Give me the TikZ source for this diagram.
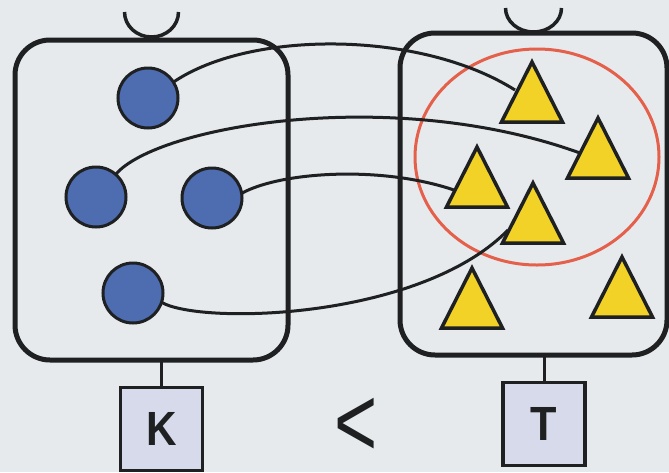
\documentclass[tikz,border=0pt]{standalone}
\usepackage{fontspec}
\setmainfont{Liberation Sans}
\usetikzlibrary{shapes.geometric,calc}
\definecolor{bgcol}{RGB}{230,234,237}
\definecolor{dotcol}{RGB}{78,108,176}
\definecolor{tricol}{RGB}{242,210,38}
\definecolor{labcol}{RGB}{214,218,234}
\definecolor{ringcol}{RGB}{228,96,74}
\definecolor{inkcol}{RGB}{30,32,34}
\pgfdeclarelayer{bg}
\pgfsetlayers{bg,main}
\tikzset{
  setbox/.style={draw=inkcol, line width=5pt, rounded corners=35pt, minimum width=273pt, minimum height=320pt, inner sep=0pt, outer sep=0pt},
  dot/.style={circle, draw=inkcol, fill=dotcol, line width=3pt, minimum size=60pt, inner sep=0pt, outer sep=0pt},
  tri/.style={isosceles triangle, isosceles triangle stretches, shape border rotate=90, draw=inkcol, fill=tricol, line width=3.5pt, minimum height=60pt, minimum width=61pt, inner sep=0pt, outer sep=0pt},
  lab/.style={draw=inkcol, fill=labcol, line width=3.5pt, minimum width=82pt, minimum height=83pt, inner sep=0pt, outer sep=0pt, text=inkcol, font=\fontsize{48}{48}\selectfont\bfseries},
  conn/.style={draw=inkcol, line width=3pt},
  handle/.style={draw=inkcol, line width=3.5pt},
  ring/.style={ellipse, draw=ringcol, line width=3pt, minimum width=244pt, minimum height=216pt, inner sep=0pt}
}
\begin{document}
\begin{tikzpicture}[x=1pt,y=-1pt]
\useasboundingbox (0,0) rectangle (669,472);
% circles
\node[dot] (c1) at (148,98) {};
\node[dot] (c2) at (96,197) {};
\node[dot] (c3) at (212,198) {};
\node[dot] (c4) at (133,293) {};
% triangles
\node[tri, anchor=apex] (t1) at (532,62) {};
\node[tri, anchor=apex] (t2) at (598,118) {};
\node[tri, anchor=apex] (t3) at (477,147) {};
\node[tri, anchor=apex] (t4) at (533,183) {};
\node[tri, anchor=apex] (t5) at (472,268) {};
\node[tri, anchor=apex] (t6) at (622,257) {};
% labels
\node[lab] (kbox) at (161.5,429) {\scalebox{0.88}[1]{K}};
\node[lab] (tbox) at (544,424) {\scalebox{0.9}[1]{T}};
\node[text=inkcol, font=\fontsize{100}{100}\selectfont, inner sep=2pt, xscale=0.74, transform shape] (lt) at (356.5,427) {<};
\begin{pgfonlayer}{bg}
\fill[bgcol] (0,0) rectangle (669,472);
\node[setbox] (lbox) at (151.5,200) {};
\node[setbox, minimum width=267pt, minimum height=322pt] (rbox) at (533.5,194) {};
\draw[handle] ([shift={(27,-28)}]lbox.north) arc[start angle=0, end angle=180, x radius=27, y radius=25];
\draw[handle] ([shift={(28,-25)}]rbox.north) arc[start angle=0, end angle=180, x radius=28, y radius=24];
\draw[conn] (kbox.north) -- (kbox.north |- lbox.south);
\draw[conn] (tbox.north) -- (tbox.north |- rbox.south);
\node[ring] (grp) at (537,157) {};
\draw[conn] (c1.32) .. controls (250,30) and (420,30) .. ($(t1.apex)+(-17,28)$);
\draw[conn] (c2.49) .. controls (157,126) and (392,85) .. ($(t2.apex)+(-18,35)$);
\draw[conn] (c3.9) .. controls (280,172) and (380,165) .. ($(t3.apex)+(-23,43)$);
\draw[conn] (c4.-18) .. controls (200,325) and (420,320) .. ($(t4.apex)+(-25,47)$);
\end{pgfonlayer}
\end{tikzpicture}
\end{document}
